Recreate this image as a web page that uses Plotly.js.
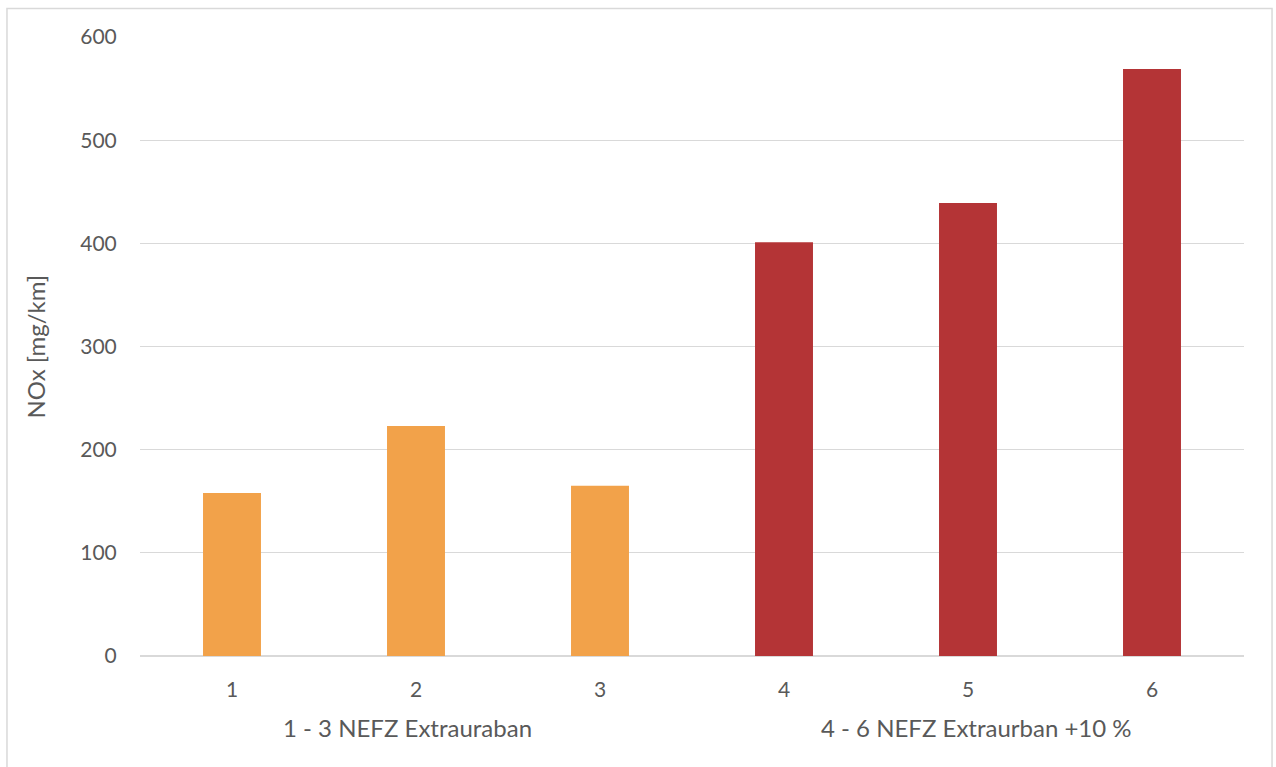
<!DOCTYPE html>
<html>
<head>
<meta charset="utf-8">
<script src="https://cdn.plot.ly/plotly-3.0.1.min.js"></script>
<style>
html,body{margin:0;padding:0;background:#fff;}
#chart{width:1276px;height:767px;}
</style>
</head>
<body>
<div id="chart"></div>
<script>
const categories = ['1','2','3','4','5','6'];
const noxValues = [158, 223, 165, 401, 439, 569];
const barColors = ['#F2A24A','#F2A24A','#F2A24A','#B43436','#B43436','#B43436'];
const yTicks = [0, 100, 200, 300, 400, 500, 600];
const groupLabels = ['1 - 3 NEFZ Extrauraban', '4 - 6 NEFZ Extraurban +10 %'];
const groupCenters = ['2', '5'];
const yTitle = 'NOx [mg/km]';

const font = 'Lato, "Open Sans", sans-serif';
const txt = '#595959';
const labelShift = [-9, 8];

const trace = {
  type: 'bar',
  x: categories,
  y: noxValues,
  marker: {color: barColors},
  hoverinfo: 'x+y'
};

const annotations = groupLabels.map((t, i) => ({
  text: t, x: categories.indexOf(groupCenters[i]), xref: 'x', y: -0.1163, yref: 'paper',
  xshift: labelShift[i],
  showarrow: false, xanchor: 'center', yanchor: 'middle',
  font: {family: font, size: 24, color: txt}
}));
annotations.push({
  text: yTitle, textangle: -90, x: -0.0951, xref: 'paper', y: 0.5, yref: 'paper',
  showarrow: false, xanchor: 'center', yanchor: 'middle',
  font: {family: font, size: 24, color: txt}
});

const layout = {
  width: 1276, height: 767,
  margin: {l: 140, r: 32, t: 37, b: 111},
  paper_bgcolor: '#fff', plot_bgcolor: '#fff',
  showlegend: false,
  bargap: 0.685,
  font: {family: font, size: 20, color: txt},
  xaxis: {
    type: 'category', categoryorder: 'array', categoryarray: categories,
    range: [-0.5, categories.length - 0.5], autorange: false,
    showgrid: false, showline: false, zeroline: false,
    ticks: 'outside', ticklen: 15, tickcolor: 'rgba(0,0,0,0)',
    tickfont: {family: font, size: 21, color: txt}
  },
  yaxis: {
    range: [0, 600], autorange: false, tickvals: yTicks, ticktext: yTicks.map(String),
    showgrid: true, gridcolor: '#D9D9D9', gridwidth: 1,
    zeroline: true, zerolinecolor: '#D9D9D9', zerolinewidth: 1.5,
    showline: false,
    ticks: 'outside', ticklen: 18, tickcolor: 'rgba(0,0,0,0)',
    tickfont: {family: font, size: 21, color: txt}
  },
  annotations: annotations,
  shapes: [{
    type: 'rect', xref: 'paper', yref: 'paper',
    x0: -0.1205, x1: 1.0254, y0: -0.19, y1: 1.046,
    line: {color: '#D9D9D9', width: 1.5}, fillcolor: 'rgba(0,0,0,0)', layer: 'below'
  }]
};

Plotly.newPlot('chart', [trace], layout, {displayModeBar: false, staticPlot: true});
</script>
</body>
</html>
